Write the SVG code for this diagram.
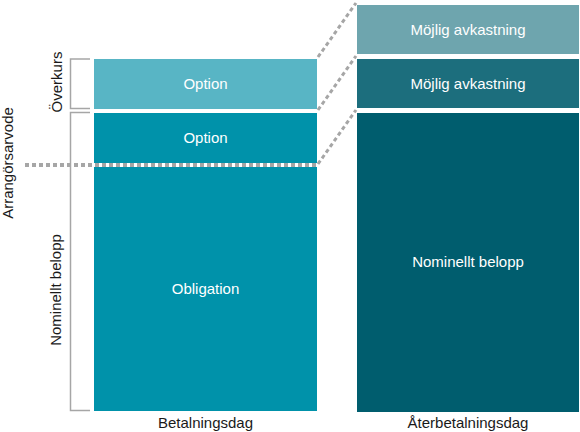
<svg xmlns="http://www.w3.org/2000/svg" width="580" height="432" viewBox="0 0 580 432">
<style>
text{font-family:"Liberation Sans",Arial,sans-serif;font-size:15px}
.w{fill:#ffffff;text-anchor:middle}
.k{fill:#1a1a1a;text-anchor:middle}
.br{fill:none;stroke:#a6a6a6;stroke-width:1.5}
.dot{fill:none;stroke:#a6a6a6;stroke-width:4;stroke-dasharray:4 3}
</style>
<rect width="580" height="432" fill="#ffffff"/>
<g id="overkurs-option"><rect x="94" y="59" width="223" height="50" fill="#58b5c5"/><text class="w" x="205.5" y="89">Option</text></g>
<g id="option"><rect x="94" y="113" width="223" height="50" fill="#0092aa"/><text class="w" x="205.5" y="143">Option</text></g>
<g id="obligation"><rect x="94" y="167" width="223" height="244" fill="#0092aa"/><text class="w" x="205.5" y="294">Obligation</text></g>
<g id="avkastning1"><rect x="357" y="5" width="222" height="49" fill="#6ea5ae"/><text class="w" x="468" y="35">Möjlig avkastning</text></g>
<g id="avkastning2"><rect x="357" y="59" width="222" height="49" fill="#1c6e7d"/><text class="w" x="468" y="89">Möjlig avkastning</text></g>
<g id="nominellt-right"><rect x="357" y="113" width="222" height="299" fill="#005d6e"/><text class="w" x="468" y="267">Nominellt belopp</text></g>
<g id="connectors">
<line class="dot" x1="25" y1="165" x2="317" y2="165"/>
<line class="dot" x1="318" y1="57" x2="356" y2="3" style="stroke-width:3"/>
<line class="dot" x1="318" y1="110" x2="356" y2="56" style="stroke-width:3"/>
<line class="dot" x1="318" y1="164" x2="356" y2="110" style="stroke-width:3"/>
</g>
<g id="bracket-overkurs"><polyline class="br" points="90,59 70.5,59 70.5,108.5 90,108.5"/><text class="k" style="fill:#1a1a1a" transform="translate(61.5,82) rotate(-90)">Överkurs</text></g>
<g id="bracket-nominellt"><polyline class="br" points="90,112.5 70.5,112.5 70.5,410.5 90,410.5"/><text class="k" transform="translate(61,290) rotate(-90)">Nominellt belopp</text></g>
<g id="arrangorsarvode"><text class="k" transform="translate(13,163) rotate(-90)">Arrangörsarvode</text></g>
<g id="labels">
<text class="k" x="205.5" y="428">Betalningsdag</text>
<text class="k" x="468" y="428">Återbetalningsdag</text>
</g>
</svg>
